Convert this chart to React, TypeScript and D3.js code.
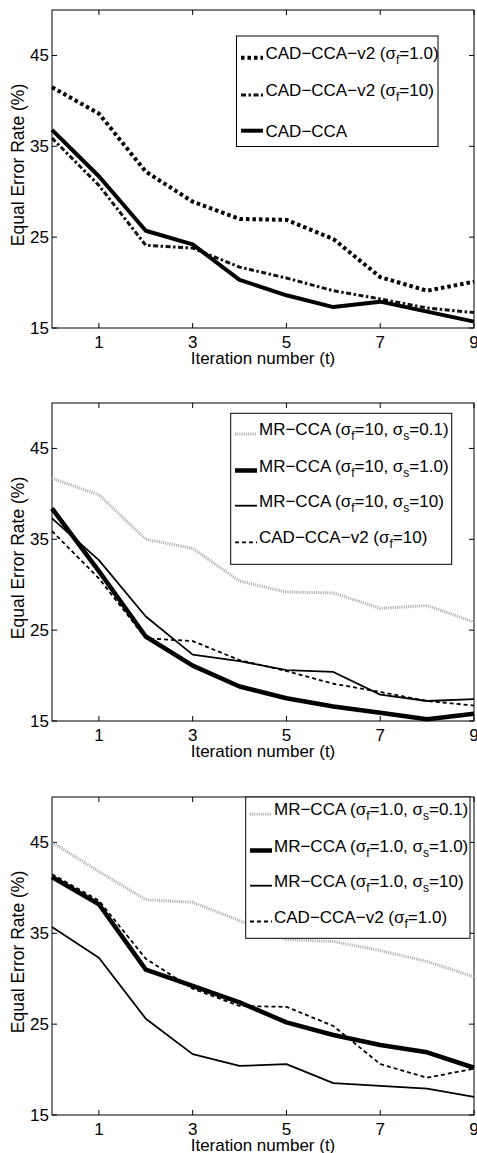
import React from "react";
import * as d3 from "d3";

// iteration index on the x axis
const iterations = [0, 1, 2, 3, 4, 5, 6, 7, 8, 9];
const xTicks = [1, 3, 5, 7, 9];
const yTicks = [15, 25, 35, 45];

// equal error rate (%) per iteration
const cadV2Sf1 = [41.5, 38.6, 32.2, 28.9, 27.0, 26.9, 24.8, 20.6, 19.1, 20.1];
const cadV2Sf10 = [35.9, 30.7, 24.1, 23.8, 21.7, 20.5, 19.1, 18.2, 17.2, 16.7];
const cadCca = [36.8, 31.7, 25.7, 24.2, 20.3, 18.6, 17.3, 17.9, 16.8, 15.7];
const mrSf10Ss01 = [41.7, 39.9, 35.0, 34.0, 30.4, 29.2, 29.1, 27.4, 27.7, 25.9];
const mrSf10Ss1 = [38.4, 31.5, 24.3, 21.1, 18.8, 17.5, 16.6, 15.9, 15.2, 15.8];
const mrSf10Ss10 = [37.3, 32.7, 26.5, 22.3, 21.6, 20.6, 20.4, 17.9, 17.2, 17.4];
const mrSf1Ss01 = [45.0, 41.8, 38.7, 38.4, 36.4, 34.3, 34.1, 33.1, 31.9, 30.2];
const mrSf1Ss1 = [41.2, 38.2, 31.0, 29.2, 27.4, 25.2, 23.8, 22.7, 21.9, 20.2];
const mrSf1Ss10 = [35.7, 32.3, 25.6, 21.7, 20.4, 20.6, 18.5, 18.2, 17.9, 17.0];

const FONT = "'Liberation Sans', Arial, Helvetica, sans-serif";
const FS = 17;

type Style = { stroke: string; width: number; dash?: string };
const styles: Record<string, Style> = {
  thickDot: { stroke: "#000", width: 4, dash: "3.5,3" },
  dashDot: { stroke: "#111", width: 3, dash: "5,2.5,2.5,2.5" },
  thickSolid: { stroke: "#000", width: 4 },
  grayDot: { stroke: "#a8a8a8", width: 3, dash: "1,1.2" },
  heavySolid: { stroke: "#000", width: 4.5 },
  thinSolid: { stroke: "#000", width: 1.8 },
  dashed: { stroke: "#000", width: 1.8, dash: "4,3" },
};

const panels = [
  {
    top: 10,
    series: [
      { values: cadV2Sf1, label: "CAD−CCA−v2 (σ_f=1.0)", style: "thickDot" },
      { values: cadV2Sf10, label: "CAD−CCA−v2 (σ_f=10)", style: "dashDot" },
      { values: cadCca, label: "CAD−CCA", style: "thickSolid" },
    ],
    legend: { x0: 236.5, x1: 438, y0: 36, y1: 146.5, rows: [52.8, 90, 130.7], s0: 241, s1: 263, tx: 265.5 },
  },
  {
    top: 403,
    series: [
      { values: mrSf10Ss01, label: "MR−CCA (σ_f=10, σ_s=0.1)", style: "grayDot" },
      { values: mrSf10Ss1, label: "MR−CCA (σ_f=10, σ_s=1.0)", style: "heavySolid" },
      { values: mrSf10Ss10, label: "MR−CCA (σ_f=10, σ_s=10)", style: "thinSolid" },
      { values: cadV2Sf10, label: "CAD−CCA−v2 (σ_f=10)", style: "dashed" },
    ],
    legend: { x0: 230.7, x1: 451.7, y0: 413.3, y1: 564.3, rows: [429, 465.5, 500.7, 537.3], s0: 235, s1: 257, tx: 259 },
  },
  {
    top: 797,
    series: [
      { values: mrSf1Ss01, label: "MR−CCA (σ_f=1.0, σ_s=0.1)", style: "grayDot" },
      { values: mrSf1Ss1, label: "MR−CCA (σ_f=1.0, σ_s=1.0)", style: "heavySolid" },
      { values: mrSf1Ss10, label: "MR−CCA (σ_f=1.0, σ_s=10)", style: "thinSolid" },
      { values: cadV2Sf1, label: "CAD−CCA−v2 (σ_f=1.0)", style: "dashed" },
    ],
    legend: { x0: 245.7, x1: 470, y0: 797, y1: 938.3, rows: [809.2, 845.5, 880.7, 916.5], s0: 250, s1: 272, tx: 274 },
  },
];

const LEFT = 52;
const RIGHT = 474;
const PH = 318;

// "σ_f" -> σ with subscript f
const Label = ({ text, x, y }: { text: string; x: number; y: number }) => {
  const parts = text.split(/(_\w)/);
  let sub = false;
  return (
    <text x={x} y={y} fontFamily={FONT} fontSize={FS} fill="#000">
      {parts.map((p, i) => {
        if (p.startsWith("_")) {
          sub = true;
          return (
            <tspan key={i} dy={5} fontSize={12}>
              {p.slice(1)}
            </tspan>
          );
        }
        const dy = sub ? -5 : 0;
        sub = false;
        return (
          <tspan key={i} dy={dy}>
            {p}
          </tspan>
        );
      })}
    </text>
  );
};

const Panel = ({ p }: { p: (typeof panels)[number] }) => {
  const bottom = p.top + PH;
  const x = d3.scaleLinear().domain([0, 9]).range([LEFT, RIGHT]);
  const y = d3.scaleLinear().domain([15, 50]).range([bottom, p.top]);
  const line = d3
    .line<number>()
    .x((_, i) => x(iterations[i]))
    .y((d) => y(d));
  const lg = p.legend;
  const tick = 5;

  return (
    <g>
      <rect x={LEFT} y={p.top} width={RIGHT - LEFT} height={PH} fill="#fff" stroke="#000" strokeWidth={1} />
      {xTicks.map((t) => (
        <g key={"x" + t}>
          <line x1={x(t)} x2={x(t)} y1={bottom} y2={bottom - tick} stroke="#000" />
          <line x1={x(t)} x2={x(t)} y1={p.top} y2={p.top + tick} stroke="#000" />
          <text x={x(t)} y={bottom + 20} textAnchor="middle" fontFamily={FONT} fontSize={FS}>
            {t}
          </text>
        </g>
      ))}
      {yTicks.map((t) => (
        <g key={"y" + t}>
          <line x1={LEFT} x2={LEFT + tick} y1={y(t)} y2={y(t)} stroke="#000" />
          <line x1={RIGHT} x2={RIGHT - tick} y1={y(t)} y2={y(t)} stroke="#000" />
          <text x={LEFT - 3} y={y(t) + 6} textAnchor="end" fontFamily={FONT} fontSize={FS}>
            {t}
          </text>
        </g>
      ))}
      <text x={(LEFT + RIGHT) / 2} y={bottom + 36} textAnchor="middle" fontFamily={FONT} fontSize={FS}>
        Iteration number (t)
      </text>
      <text
        transform={`translate(24,${(p.top + bottom) / 2 - 4}) rotate(-90)`}
        textAnchor="middle"
        fontFamily={FONT}
        fontSize={FS + 0.5}
      >
        Equal Error Rate (%)
      </text>
      {p.series.map((s, i) => {
        const st = styles[s.style];
        return (
          <path
            key={i}
            d={line(s.values) || ""}
            fill="none"
            stroke={st.stroke}
            strokeWidth={st.width}
            strokeDasharray={st.dash}
            strokeLinejoin="round"
          />
        );
      })}
      <rect x={lg.x0} y={lg.y0} width={lg.x1 - lg.x0} height={lg.y1 - lg.y0} fill="#fff" stroke="#000" strokeWidth={1} />
      {p.series.map((s, i) => {
        const st = styles[s.style];
        const cy = lg.rows[i];
        const off = s.label.includes("_") ? 5 : 0;
        return (
          <g key={"l" + i}>
            <line
              x1={lg.s0}
              x2={lg.s1}
              y1={cy + off}
              y2={cy + off}
              stroke={st.stroke}
              strokeWidth={st.width}
              strokeDasharray={st.dash}
            />
            <Label text={s.label} x={lg.tx} y={cy + 6} />
          </g>
        );
      })}
    </g>
  );
};

export default function App() {
  return (
    <svg
      width={477}
      height={1153}
      style={{ position: "absolute", left: 0, top: 0, background: "#fff" }}
    >
      {panels.map((p, i) => (
        <Panel key={i} p={p} />
      ))}
    </svg>
  );
}
